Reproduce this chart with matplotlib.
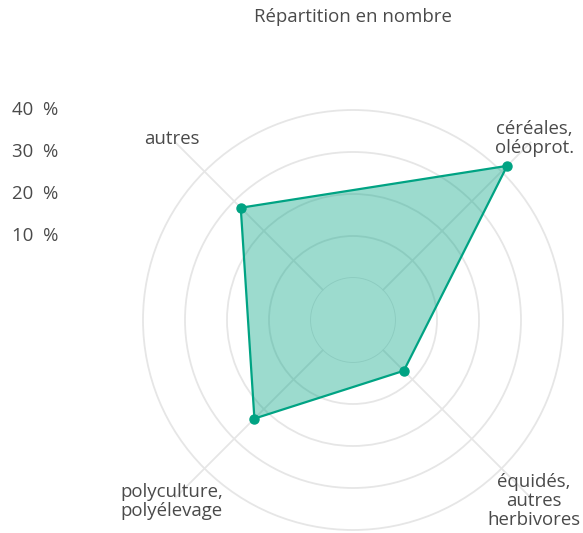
import matplotlib.pyplot as plt
import numpy as np

categories = ["céréales,\noléoprot.", "équidés,\nautres\nherbivores", "polyculture,\npolyélevage", "autres"]
values = [41.9, 7.1, 23.2, 27.8]
rings = [0, 10, 20, 30, 40]
tick_labels = ["10  %", "20  %", "30  %", "40  %"]

plt.rcParams['font.family'] = ['Open Sans', 'DejaVu Sans']
text_col = '#4a4a4a'
teal = '#00a383'

W, H = 583, 533
fig = plt.figure(figsize=(W / 100, H / 100), dpi=100)
# polar axes centred at (353, 320) px from top-left, r=50 -> 252 px
R = 252
cx, cy = 353, H - 320
ax = fig.add_axes([(cx - R) / W, (cy - R) / H, 2 * R / W, 2 * R / H], projection='polar')
ax.set_theta_offset(np.pi / 4)
ax.set_theta_direction(-1)
ax.set_ylim(0, 50)
ax.set_rorigin(-10)
for s in ax.spines.values():
    s.set_linewidth(0)
    s.set_edgecolor('none')
ax.patch.set_visible(False)

angles = np.arange(len(categories)) * np.pi / 2
ax.set_xticks(angles)
ax.set_xticklabels([])
ax.set_yticks(rings)
ax.set_yticklabels([])
ax.grid(True, color='#e6e6e6', linewidth=1.3)
ax.tick_params(length=0)
ax.set_axisbelow(True)

a = np.append(angles, angles[0])
v = np.append(values, values[0])
ax.fill(a, v, color=teal, alpha=0.39, linewidth=0, zorder=2, clip_on=False)
ax.plot(a, v, color=teal, linewidth=1.6, zorder=3, clip_on=False)
ax.plot(angles, values, 'o', color=teal, markersize=6.5, zorder=4, clip_on=False)

fs = 13.4
for ang, lab in zip(angles, categories):
    ax.text(ang, 51, lab, ha='center', va='center', fontsize=fs, color=text_col,
            linespacing=1.06, multialignment='center', clip_on=False)

inv = fig.transFigure.inverted()
for r, lab in zip(rings[1:], tick_labels):
    x_d, y_d = ax.transData.transform((-np.pi / 4, r))
    fy = inv.transform((0, y_d))[1]
    fig.text(12 / W, fy, lab, ha='left', va='center', fontsize=fs, color=text_col)

fig.text(cx / W, 1 - 17 / H, "Répartition en nombre", ha='center', va='center',
         fontsize=fs, color=text_col)

fig.savefig('out.png', dpi=100)
